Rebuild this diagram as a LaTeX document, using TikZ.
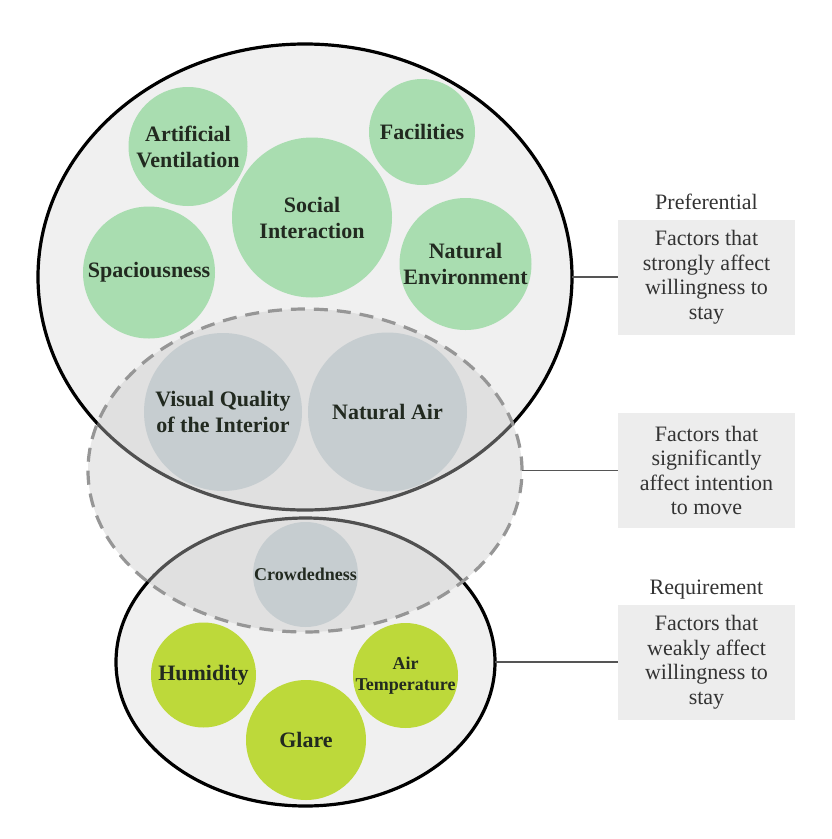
\documentclass[tikz,border=0pt]{standalone}
\usepackage{fontspec}
\setmainfont{Liberation Serif}
\usetikzlibrary{shapes.geometric,positioning}

\definecolor{zonefill}{RGB}{240,240,240}
\definecolor{movefill}{RGB}{200,200,200}
\definecolor{dashgray}{RGB}{150,150,150}
\definecolor{bubblegreen}{RGB}{169,221,176}
\definecolor{bubblegray}{RGB}{198,205,208}
\definecolor{bubblelime}{RGB}{189,217,58}
\definecolor{boxfill}{RGB}{237,237,237}
\definecolor{inktext}{RGB}{34,42,32}
\definecolor{tagtext}{RGB}{51,51,51}
\definecolor{linkgray}{RGB}{85,85,85}

\begin{document}
\begin{tikzpicture}[x=1pt, y=-1pt,
    zone/.style={ellipse, draw=black, line width=3.2pt, fill=zonefill, inner sep=0pt, outer sep=0pt},
    movezone/.style={ellipse, draw=dashgray, line width=3.2pt, dash pattern=on 14pt off 9pt,
      fill=movefill, fill opacity=0.4, inner sep=0pt, outer sep=0pt},
    bubble/.style={circle, inner sep=-10pt, text=inktext, align=center,
      font=\bfseries\fontsize{22}{26}\selectfont},
    smallbubble/.style={bubble, font=\bfseries\fontsize{18}{21}\selectfont},
    factbox/.style={fill=boxfill, text=tagtext, align=center, minimum width=177pt,
      minimum height=115pt, inner sep=0pt, font=\fontsize{22}{24.5}\selectfont},
    tag/.style={text=tagtext, inner sep=0pt, font=\fontsize{22}{24.5}\selectfont},
    link/.style={draw=linkgray, line width=1.6pt}]

    % Parameters
    \def\boxx{706.5}
    \def\tagy{10pt}

    \useasboundingbox (0,0) rectangle (832,839);

    % Zones
    \node[zone, minimum width=534pt, minimum height=466pt] (prefzone) at (305,277) {};
    \node[zone, minimum width=379pt, minimum height=288pt] (reqzone) at (305.5,662) {};
    \node[movezone, minimum width=434pt, minimum height=323pt] (movezone) at (305,470.5) {};

    % Preferential factors
    \node[bubble, fill=bubblegreen, minimum size=119pt] (artvent) at (188,146.5) {Artificial\\Ventilation};
    \node[bubble, fill=bubblegreen, minimum size=106pt] (facil) at (422,132) {Facilities};
    \node[bubble, fill=bubblegreen, minimum size=160pt] (social) at (312,217.5) {Social\\Interaction};
    \node[bubble, fill=bubblegreen, minimum size=132pt] (spacious) at (149,272.5) {Spaciousness};
    \node[bubble, fill=bubblegreen, minimum size=132pt] (natenv) at (465.5,264) {Natural\\Environment};

    % Intention to move
    \node[bubble, fill=bubblegray, minimum size=158pt] (visual) at (223,412) {Visual Quality\\of the Interior};
    \node[bubble, fill=bubblegray, minimum size=159pt] (natair) at (387.5,412) {Natural Air};
    \node[smallbubble, fill=bubblegray, minimum size=105pt] (crowd) at (305.5,574.5) {Crowdedness};

    % Requirement factors
    \node[bubble, fill=bubblelime, minimum size=105pt] (humid) at (203.5,675) {Humidity};
    \node[bubble, fill=bubblelime, minimum size=120pt] (glare) at (306,740) {Glare};
    \node[smallbubble, fill=bubblelime, minimum size=105pt] (airtemp) at (405.5,675.5) {Air\\Temperature};

    % Legend boxes
    \node[factbox] (prefbox) at (\boxx,277) {Factors that\\strongly affect\\willingness to\\stay};
    \node[factbox] (movebox) at (\boxx,470.5) {Factors that\\significantly\\affect intention\\to move};
    \node[factbox] (reqbox) at (\boxx,662) {Factors that\\weakly affect\\willingness to\\stay};
    \node[tag, anchor=base] (preftag) at ([yshift=\tagy]prefbox.north) {Preferential};
    \node[tag, anchor=base] (reqtag) at ([yshift=\tagy]reqbox.north) {Requirement};

    % Connectors
    \draw[link] (prefzone.east) -- (prefbox.west);
    \draw[link] (movezone.east) -- (movebox.west);
    \draw[link] (reqzone.east) -- (reqbox.west);
\end{tikzpicture}
\end{document}
